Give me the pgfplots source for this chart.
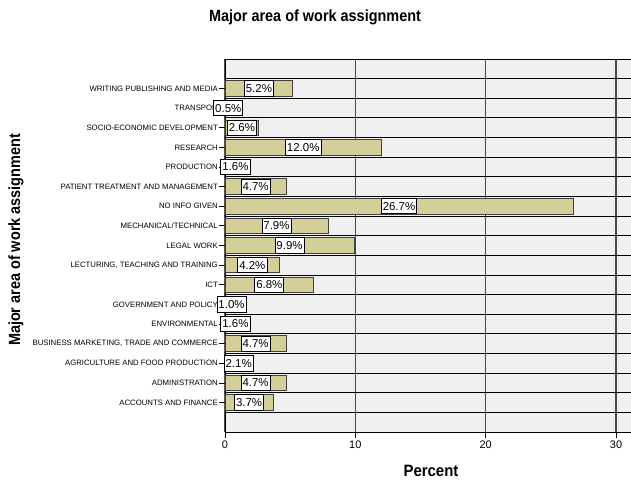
\documentclass[border=0pt]{standalone}
\usepackage{fontspec}
\setmainfont{Liberation Sans}
\usepackage{pgfplots}
\usepackage{pgfplotstable}
\pgfplotsset{compat=1.18}
\definecolor{barfill}{RGB}{212,207,153}
\definecolor{bgfill}{RGB}{240,240,240}
\pgfplotstableread{
y v
1 3.7
2 4.7
3 2.1
4 4.7
5 1.6
6 1.0
7 6.8
8 4.2
9 9.9
10 7.9
11 26.7
12 4.7
13 1.6
14 12.0
15 2.6
16 0.5
17 5.2
}\datatable
\begin{document}
\begin{tikzpicture}
\begin{axis}[
  scale only axis,
  width=406bp, height=373bp,
  xmin=0, xmax=31.15,
  ymin=-0.5, ymax=18.5,
  axis x line*=bottom,
  axis y line*=left,
  axis line style={black, line width=0.9bp},
  axis background/.style={fill=bgfill},
  clip=false,
  xtick={0,10,20,30},
  ytick={1,...,17},
  yticklabels={ACCOUNTS AND FINANCE, ADMINISTRATION, AGRICULTURE AND FOOD PRODUCTION, {BUSINESS MARKETING, TRADE AND COMMERCE}, ENVIRONMENTAL, GOVERNMENT AND POLICY, ICT, {LECTURING, TEACHING AND TRAINING}, LEGAL WORK, MECHANICAL/TECHNICAL, NO INFO GIVEN, PATIENT TREATMENT AND MANAGEMENT, PRODUCTION, RESEARCH, SOCIO-ECONOMIC DEVELOPMENT, TRANSPOR, WRITING PUBLISHING AND MEDIA},
  minor ytick={0.5,1.5,...,18.5},
  yminorgrids=true,
  minor y grid style={black, line width=0.8bp},
  xmajorgrids=true,
  major x grid style={black!72, line width=1.4bp},
  ymajorgrids=false,
  tick align=outside,
  major tick length=6bp,
  minor tick length=0pt,
  tick style={black, line width=0.8bp},
  yticklabel style={font=\fontsize{7.8}{9}\selectfont, inner sep=1bp},
  xticklabel style={font=\fontsize{11}{13}\selectfont, inner sep=3bp},
  /pgf/number format/assume math mode=true,
]
\addplot[xbar, bar width=0.79, fill=barfill, draw=black!75, line width=0.9bp] table[x=v, y=y] {\datatable};
\addplot[draw=none, mark=none, point meta=explicit,
  nodes near coords={\pgfmathprintnumber[fixed,fixed zerofill,precision=1]{\pgfplotspointmeta}\%},
  every node near coord/.append style={anchor=center, draw=black, line width=0.8bp, fill=white, inner xsep=1.5bp, inner ysep=3.6bp, font=\fontsize{11.5}{13}\selectfont}
] table[x expr=\thisrow{v}/2, y=y, meta=v] {\datatable};
\coordinate (bl) at (rel axis cs:0,0);
\end{axis}
\node[font=\fontsize{14.5}{16}\selectfont\bfseries, transform shape, yscale=1.12] at ([shift={(90bp,415bp)}]bl) {Major area of work assignment};
\node[font=\fontsize{14.5}{16}\selectfont\bfseries, transform shape, rotate=90, yscale=1.12] at ([shift={(-209bp,192bp)}]bl) {Major area of work assignment};
\node[font=\fontsize{15}{16}\selectfont\bfseries, transform shape, yscale=1.1] at ([shift={(206bp,-39bp)}]bl) {Percent};
\pgfresetboundingbox
\path (bl) ++(-225bp,-49bp) rectangle ++(631bp,481bp);
\end{tikzpicture}
\end{document}
